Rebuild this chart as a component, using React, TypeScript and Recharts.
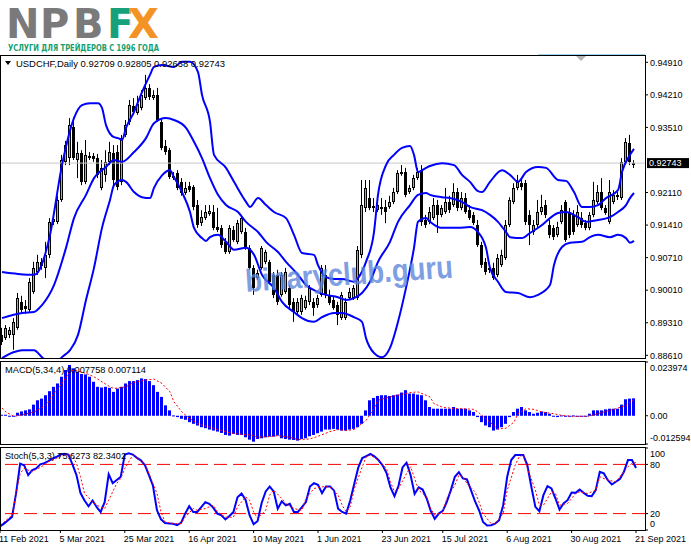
import React from 'react';
import { ComposedChart, Bar, Line, XAxis, YAxis, ReferenceLine } from 'recharts';

const FONT = '"Liberation Sans", Arial, sans-serif';

// ---- USDCHF Daily candles (11 Feb 2021 .. 21 Sep 2021) ----
const opens = [
  0.8905, 0.8898, 0.8905, 0.8905, 0.8920, 0.8976, 0.8967, 0.8959, 0.8997, 0.9040,
  0.9062, 0.9049, 0.9077, 0.9148, 0.9148, 0.9195, 0.9277, 0.9285, 0.9352, 0.9281,
  0.9296, 0.9234, 0.9285, 0.9290, 0.9285, 0.9221, 0.9249, 0.9277, 0.9296, 0.9298,
  0.9234, 0.9335, 0.9363, 0.9397, 0.9382, 0.9393, 0.9414, 0.9436, 0.9414, 0.9421,
  0.9363, 0.9311, 0.9302, 0.9242, 0.9253, 0.9234, 0.9210, 0.9225, 0.9223, 0.9184,
  0.9145, 0.9156, 0.9165, 0.9169, 0.9137, 0.9135, 0.9105, 0.9083, 0.9130, 0.9105,
  0.9126, 0.9126, 0.9092, 0.9049, 0.9027, 0.9049, 0.9062, 0.9062, 0.9034, 0.9034,
  0.8991, 0.8997, 0.9006, 0.8976, 0.8954, 0.8954, 0.8963, 0.8976, 0.8976, 0.8969,
  0.8991, 0.9034, 0.8991, 0.8980, 0.8969, 0.8941, 0.8941, 0.8984, 0.8984, 0.8984,
  0.9077, 0.9178, 0.9199, 0.9182, 0.9173, 0.9176, 0.9180, 0.9180, 0.9191, 0.9212,
  0.9251, 0.9255, 0.9212, 0.9221, 0.9242, 0.9259, 0.9152, 0.9148, 0.9156, 0.9184,
  0.9163, 0.9169, 0.9191, 0.9184, 0.9212, 0.9178, 0.9199, 0.9173, 0.9163, 0.9141,
  0.9098, 0.9062, 0.9049, 0.9049, 0.9034, 0.9055, 0.9070, 0.9141, 0.9191, 0.9221,
  0.9231, 0.9231, 0.9163, 0.9126, 0.9141, 0.9169, 0.9184, 0.9141, 0.9135, 0.9120,
  0.9148, 0.9191, 0.9169, 0.9163, 0.9141, 0.9156, 0.9145, 0.9135, 0.9163, 0.9191,
  0.9212, 0.9178, 0.9148, 0.9191, 0.9206, 0.9199, 0.9277, 0.9317, 0.92709,
];
const highs = [
  0.8920, 0.8926, 0.8922, 0.8941, 0.8995, 0.8989, 0.8980, 0.9027, 0.9062, 0.9077,
  0.9070, 0.9105, 0.9156, 0.9169, 0.9204, 0.9292, 0.9322, 0.9371, 0.9373, 0.9320,
  0.9302, 0.9324, 0.9298, 0.9296, 0.9294, 0.9281, 0.9302, 0.9320, 0.9313, 0.9313,
  0.9335, 0.9367, 0.9410, 0.9414, 0.9419, 0.9431, 0.9464, 0.9444, 0.9431, 0.9436,
  0.9371, 0.9324, 0.9307, 0.9255, 0.9259, 0.9242, 0.9234, 0.9234, 0.9227, 0.9195,
  0.9173, 0.9184, 0.9184, 0.9184, 0.9178, 0.9141, 0.9113, 0.9141, 0.9139, 0.9152,
  0.9163, 0.9135, 0.9098, 0.9055, 0.9045, 0.9096, 0.9088, 0.9066, 0.9040, 0.9045,
  0.9040, 0.9049, 0.9012, 0.8984, 0.8984, 0.8991, 0.8989, 0.9012, 0.8984, 0.8991,
  0.9055, 0.9055, 0.9002, 0.8987, 0.8976, 0.8997, 0.8984, 0.9006, 0.9012, 0.9096,
  0.9238, 0.9238, 0.9238, 0.9199, 0.9199, 0.9199, 0.9195, 0.9204, 0.9221, 0.9259,
  0.9270, 0.9264, 0.9227, 0.9249, 0.9264, 0.9270, 0.9163, 0.9180, 0.9199, 0.9195,
  0.9184, 0.9221, 0.9204, 0.9231, 0.9221, 0.9212, 0.9210, 0.9184, 0.9169, 0.9152,
  0.9105, 0.9070, 0.9055, 0.9060, 0.9079, 0.9088, 0.9152, 0.9201, 0.9231, 0.9249,
  0.9242, 0.9238, 0.9173, 0.9152, 0.9195, 0.9206, 0.9195, 0.9152, 0.9141, 0.9148,
  0.9184, 0.9195, 0.9178, 0.9173, 0.9184, 0.9169, 0.9152, 0.9169, 0.9234, 0.9227,
  0.9242, 0.9184, 0.9238, 0.9216, 0.9212, 0.9285, 0.9328, 0.9335, 0.92805,
];
const lows = [
  0.8883, 0.8894, 0.8898, 0.8873, 0.8916, 0.8954, 0.8950, 0.8954, 0.8993, 0.9034,
  0.9045, 0.9027, 0.9070, 0.9141, 0.9143, 0.9191, 0.9270, 0.9270, 0.9281, 0.9242,
  0.9227, 0.9229, 0.9281, 0.9277, 0.9242, 0.9216, 0.9234, 0.9270, 0.9227, 0.9216,
  0.9227, 0.9330, 0.9356, 0.9378, 0.9378, 0.9388, 0.9410, 0.9410, 0.9410, 0.9363,
  0.9302, 0.9292, 0.9240, 0.9238, 0.9216, 0.9204, 0.9206, 0.9212, 0.9173, 0.9135,
  0.9139, 0.9152, 0.9161, 0.9130, 0.9126, 0.9092, 0.9079, 0.9079, 0.9105, 0.9100,
  0.9122, 0.9088, 0.9045, 0.8991, 0.9023, 0.9045, 0.9057, 0.9014, 0.8984, 0.8969,
  0.8987, 0.8993, 0.8963, 0.8933, 0.8950, 0.8948, 0.8959, 0.8969, 0.8946, 0.8963,
  0.8987, 0.8984, 0.8969, 0.8959, 0.8926, 0.8937, 0.8937, 0.8980, 0.8980, 0.8980,
  0.9070, 0.9169, 0.9173, 0.9169, 0.9169, 0.9163, 0.9145, 0.9176, 0.9186, 0.9208,
  0.9247, 0.9201, 0.9208, 0.9216, 0.9238, 0.9139, 0.9135, 0.9143, 0.9152, 0.9124,
  0.9158, 0.9165, 0.9167, 0.9180, 0.9171, 0.9173, 0.9165, 0.9152, 0.9141, 0.9094,
  0.9049, 0.9034, 0.9038, 0.9023, 0.9029, 0.9051, 0.9066, 0.9137, 0.9186, 0.9216,
  0.9216, 0.9141, 0.9098, 0.9120, 0.9137, 0.9163, 0.9156, 0.9113, 0.9109, 0.9115,
  0.9143, 0.9105, 0.9113, 0.9120, 0.9137, 0.9135, 0.9130, 0.9130, 0.9158, 0.9186,
  0.9173, 0.9163, 0.9143, 0.9186, 0.9195, 0.9195, 0.9272, 0.9270, 0.92638,
];
const closes = [
  0.8890, 0.8920, 0.8916, 0.8933, 0.8984, 0.8959, 0.8961, 0.9019, 0.9049, 0.9062,
  0.9053, 0.9077, 0.9148, 0.9154, 0.9195, 0.9281, 0.9313, 0.9356, 0.9285, 0.9296,
  0.9234, 0.9292, 0.9290, 0.9283, 0.9249, 0.9264, 0.9277, 0.9298, 0.9238, 0.9223,
  0.9328, 0.9356, 0.9399, 0.9384, 0.9401, 0.9421, 0.9436, 0.9416, 0.9421, 0.9367,
  0.9307, 0.9298, 0.9244, 0.9247, 0.9221, 0.9210, 0.9221, 0.9216, 0.9180, 0.9141,
  0.9158, 0.9169, 0.9171, 0.9135, 0.9130, 0.9098, 0.9083, 0.9135, 0.9109, 0.9145,
  0.9156, 0.9092, 0.9049, 0.9006, 0.9038, 0.9092, 0.9083, 0.9019, 0.8991, 0.8976,
  0.9034, 0.9040, 0.8969, 0.8954, 0.8976, 0.8984, 0.8980, 0.9006, 0.8963, 0.8984,
  0.9049, 0.8991, 0.8974, 0.8963, 0.8948, 0.8991, 0.8976, 0.8997, 0.9006, 0.9088,
  0.9184, 0.9221, 0.9178, 0.9178, 0.9184, 0.9180, 0.9169, 0.9191, 0.9212, 0.9253,
  0.9255, 0.9206, 0.9221, 0.9242, 0.9255, 0.9148, 0.9141, 0.9169, 0.9184, 0.9163,
  0.9178, 0.9191, 0.9173, 0.9212, 0.9178, 0.9199, 0.9169, 0.9156, 0.9145, 0.9098,
  0.9055, 0.9040, 0.9045, 0.9027, 0.9070, 0.9077, 0.9141, 0.9195, 0.9221, 0.9234,
  0.9223, 0.9148, 0.9141, 0.9141, 0.9169, 0.9180, 0.9163, 0.9120, 0.9115, 0.9137,
  0.9173, 0.9109, 0.9120, 0.9126, 0.9169, 0.9141, 0.9135, 0.9163, 0.9195, 0.9212,
  0.9178, 0.9167, 0.9212, 0.9206, 0.9201, 0.9277, 0.9320, 0.9277, 0.92743,
];

// ---- Bollinger bands, read at bars [barIndex, price] ----
const bbUpperPts = [
  [0, 0.9040], [4, 0.9036], [8, 0.9034], [9, 0.9040], [12, 0.9120], [15, 0.9270], [18, 0.9371], [20, 0.9399],
  [22, 0.9403], [24, 0.9403], [25, 0.9393], [26, 0.9356], [28, 0.9330], [29, 0.9328], [30, 0.9324], [31, 0.9350],
  [33, 0.9384], [35, 0.9427], [37, 0.9464], [38, 0.9481], [40, 0.9485], [43, 0.9481], [45, 0.9492], [47, 0.9492],
  [49, 0.9470], [50, 0.9421], [52, 0.9363], [53, 0.9292], [56, 0.9264], [58, 0.9234], [61, 0.9191], [62, 0.9180],
  [64, 0.9199], [66, 0.9184], [68, 0.9169], [71, 0.9156], [73, 0.9120], [75, 0.9081], [78, 0.9077], [79, 0.9055],
  [81, 0.9029], [83, 0.9025], [85, 0.9025], [88, 0.9019], [89, 0.9027], [91, 0.9062], [93, 0.9126], [94, 0.9206],
  [96, 0.9270], [98, 0.9292], [100, 0.9307], [102, 0.9311], [103, 0.9292], [104, 0.9255], [106, 0.9264], [107, 0.9268],
  [110, 0.9274], [113, 0.9270], [115, 0.9249], [117, 0.9234], [119, 0.9214], [120, 0.9212], [122, 0.9234], [125, 0.9259],
  [127, 0.9249], [129, 0.9234], [131, 0.9255], [134, 0.9266], [136, 0.9264], [139, 0.9238], [141, 0.9236], [143, 0.9212],
  [145, 0.9180], [147, 0.9180], [149, 0.9184], [151, 0.9199], [154, 0.9216], [155, 0.9255], [157, 0.9292], [158, 0.9305],
];
const bbMiddlePts = [
  [0, 0.8941], [5, 0.8952], [8, 0.8954], [10, 0.8969], [13, 0.9012], [16, 0.9092], [18, 0.9156], [21, 0.9206],
  [23, 0.9242], [26, 0.9266], [28, 0.9281], [30, 0.9277], [33, 0.9298], [36, 0.9328], [38, 0.9360], [41, 0.9371],
  [43, 0.9367], [46, 0.9350], [48, 0.9320], [50, 0.9285], [52, 0.9242], [54, 0.9206], [56, 0.9184], [59, 0.9169],
  [61, 0.9148], [64, 0.9126], [66, 0.9105], [69, 0.9083], [71, 0.9062], [74, 0.9034], [76, 0.9012], [79, 0.8997],
  [81, 0.8991], [84, 0.8986], [86, 0.8980], [88, 0.8984], [90, 0.8995], [92, 0.9019], [94, 0.9062], [97, 0.9105],
  [99, 0.9148], [102, 0.9184], [104, 0.9206], [106, 0.9210], [107, 0.9206], [110, 0.9201], [112, 0.9199], [115, 0.9191],
  [117, 0.9180], [120, 0.9173], [122, 0.9163], [124, 0.9148], [126, 0.9126], [127, 0.9115], [130, 0.9113], [132, 0.9124],
  [135, 0.9141], [137, 0.9156], [139, 0.9167], [141, 0.9169], [144, 0.9158], [146, 0.9148], [149, 0.9152], [152, 0.9158],
  [154, 0.9169], [156, 0.9184], [157, 0.9199], [158, 0.9210],
];
const bbLowerPts = [
  [0, 0.8855], [3, 0.8868], [5, 0.8872], [8, 0.8872], [10, 0.8857], [12, 0.8845], [14, 0.8848], [15, 0.8857],
  [17, 0.8872], [19, 0.8905], [21, 0.8980], [23, 0.9049], [25, 0.9135], [27, 0.9195], [28, 0.9227], [30, 0.9238],
  [31, 0.9234], [33, 0.9212], [35, 0.9201], [37, 0.9199], [38, 0.9221], [40, 0.9248], [42, 0.9259], [43, 0.9244],
  [45, 0.9212], [47, 0.9169], [48, 0.9135], [50, 0.9113], [51, 0.9107], [52, 0.9115], [54, 0.9120], [56, 0.9105],
  [58, 0.9088], [61, 0.9092], [63, 0.9077], [65, 0.9034], [68, 0.9006], [70, 0.8976], [73, 0.8954], [75, 0.8941],
  [78, 0.8933], [80, 0.8943], [83, 0.8952], [85, 0.8952], [88, 0.8943], [90, 0.8933], [91, 0.8898], [93, 0.8866],
  [95, 0.8857], [97, 0.8877], [99, 0.8933], [101, 0.9006], [103, 0.9092], [104, 0.9148], [106, 0.9156], [107, 0.9148],
  [109, 0.9137], [110, 0.9135], [114, 0.9135], [117, 0.9137], [119, 0.9126], [121, 0.9092], [122, 0.9049], [124, 0.9019],
  [126, 0.8997], [129, 0.8995], [132, 0.8986], [134, 0.8991], [137, 0.9012], [138, 0.9055], [140, 0.9094], [142, 0.9103],
  [145, 0.9105], [147, 0.9115], [149, 0.9120], [152, 0.9115], [154, 0.9120], [156, 0.9113], [157, 0.9103], [158, 0.9107],
];

// ---- MACD(5,34,4) ----
const macdHist = [
  0.00045, 0.00045, -0.0003, -0.0003, 0.00135, 0.00195, 0.0024, 0.00285, 0.00495, 0.0069,
  0.00765, 0.00915, 0.01095, 0.0129, 0.0144, 0.0174, 0.0204, 0.02265, 0.02115, 0.01965,
  0.0186, 0.01845, 0.0174, 0.01515, 0.0129, 0.0126, 0.0129, 0.01245, 0.01065, 0.01215,
  0.0129, 0.0144, 0.01545, 0.01545, 0.0159, 0.01665, 0.01635, 0.01545, 0.01365, 0.01065,
  0.0084, 0.00465, 0.0024, 0.00015, -0.0006, -0.00135, -0.0018, -0.00285, -0.0036, -0.00435,
  -0.0051, -0.00555, -0.00615, -0.0066, -0.00705, -0.00765, -0.00855, -0.00885, -0.0081, -0.00855,
  -0.00855, -0.0096, -0.01065, -0.01155, -0.01035, -0.01005, -0.0096, -0.0093, -0.0093, -0.00885,
  -0.01005, -0.01035, -0.01065, -0.0108, -0.0111, -0.01035, -0.01005, -0.00915, -0.00855, -0.0078,
  -0.00705, -0.00615, -0.00615, -0.00585, -0.00615, -0.0066, -0.0066, -0.00615, -0.00585, -0.0051,
  -0.0036, 0.0024, 0.0069, 0.00795, 0.00885, 0.00915, 0.00915, 0.00885, 0.00915, 0.00945,
  0.01035, 0.0114, 0.0099, 0.0099, 0.00945, 0.00915, 0.0069, 0.0039, 0.00315, 0.00315,
  0.00315, 0.00315, 0.00315, 0.0039, 0.00315, 0.00315, 0.00315, 0.0024, 0.00165, -0.0006,
  -0.00285, -0.00435, -0.0051, -0.0066, -0.00615, -0.0051, -0.0036, -0.0006, 0.00165, 0.00315,
  0.0039, 0.0024, 0.00165, 0.0009, 0.00135, 0.00195, 0.00165, 0.0009, -0.00015, -0.0006,
  0.00015, -0.00015, -0.0003, 0.00015, -0.00015, -0.0003, -0.00015, 0.0009, 0.0024, 0.0024,
  0.0024, 0.00285, 0.00315, 0.00315, 0.00315, 0.00495, 0.00735, 0.00765, 0.007758,
];
const macdSignalPts = [
  [0, 0.00345], [1, 0.00165], [3, -0.0003], [5, 0.00045], [8, 0.00165], [11, 0.00465], [13, 0.0099], [15, 0.0144],
  [17, 0.01965], [18, 0.0204], [21, 0.0189], [23, 0.0174], [25, 0.01515], [27, 0.0129], [28, 0.01215], [31, 0.0129],
  [33, 0.01485], [36, 0.0159], [38, 0.01635], [40, 0.0144], [42, 0.01065], [43, 0.00615], [45, 0.00165], [47, -0.00135],
  [49, -0.0036], [52, -0.0051], [54, -0.00615], [57, -0.00765], [59, -0.0081], [62, -0.00855], [64, -0.0096], [67, -0.0093],
  [69, -0.00885], [72, -0.0096], [74, -0.01065], [77, -0.01035], [79, -0.00915], [82, -0.00705], [84, -0.00615], [86, -0.0066],
  [88, -0.00615], [91, -0.0021], [93, 0.00315], [94, 0.0069], [97, 0.0084], [99, 0.00915], [102, 0.01035], [104, 0.01065],
  [107, 0.0084], [108, 0.0054], [110, 0.0039], [113, 0.00315], [115, 0.00315], [118, 0.00285], [119, 0.00165], [121, -0.00135],
  [123, -0.00435], [124, -0.00585], [126, -0.00555], [128, -0.00285], [129, 0.0009], [131, 0.00315], [133, 0.00285], [135, 0.00165],
  [138, 0.0009], [140, 0.00015], [143, -0.0003], [147, -0.00015], [148, 0.00045], [151, 0.00195], [153, 0.00285], [156, 0.00465],
  [158, 0.007114],
];

// ---- Stochastic(5,3,3) ----
const stochMain = [
  4.5, 7.8, 11.9, 16, 45, 81, 79, 67, 73, 75,
  80, 81.5, 84, 87, 89, 92, 93, 92, 80, 67,
  45, 36, 29, 36, 28, 22, 34, 68, 57, 61,
  65, 92, 93.5, 92, 88, 85, 79, 67, 54, 24,
  13, 8.5, 8, 7.5, 5.8, 9, 20, 29, 22, 22,
  28, 34, 32, 27, 20, 18, 13, 17, 22, 40,
  44.5, 37, 18, 7, 11, 33, 47, 53, 47, 26,
  35, 30, 32, 22, 22, 28, 34, 53, 57, 55,
  45, 53, 53, 48, 26, 22, 20, 36, 56, 76,
  87.8, 90.2, 92.7, 89.8, 85.3, 79.2, 69.8, 51.9, 41.3, 53.9,
  76.3, 82.1, 67, 44, 52, 49.4, 38.4, 23.3, 13.5, 20,
  23.3, 34.3, 48.6, 64.9, 70.6, 62.9, 61.7, 48.6, 35.1, 24.1,
  9.8, 5.4, 5.8, 7.8, 11.9, 30.2, 64.9, 85.3, 91.4, 91.4,
  91.4, 79.2, 52.7, 28.2, 23, 42.5, 53.5, 50.6, 38.4, 25,
  32.3, 36.4, 45.7, 45.3, 49.4, 45.3, 41.7, 41.3, 48.6, 71,
  69, 60.8, 55.5, 58.8, 62.1, 71, 85.3, 85.3, 75.6273,
];
const stochSignalPts = [
  [0, 5.8], [1, 9.8], [3, 18.0], [4, 44.5], [5, 69.0], [6, 75.1], [8, 71.0], [9, 73.9], [11, 79.2], [12, 83.3],
  [14, 87.4], [16, 91.4], [18, 91.4], [19, 81.2], [20, 64.9], [21, 44.5], [23, 34.3], [24, 30.2], [26, 26.2], [27, 36.4],
  [29, 56.8], [30, 62.9], [31, 75.1], [33, 91.4], [34, 87.4], [36, 81.2], [37, 69.0], [39, 44.5], [40, 22.1], [41, 9.8],
  [43, 7.8], [45, 7.8], [46, 15.6], [48, 26.2], [49, 24.1], [51, 26.2], [53, 30.2], [54, 22.1], [56, 15.6], [58, 15.6],
  [59, 28.2], [61, 40.4], [62, 36.4], [63, 22.1], [64, 13.9], [66, 24.1], [67, 42.5], [68, 48.6], [70, 38.4], [71, 32.3],
  [73, 26.2], [75, 24.1], [76, 38.4], [78, 50.6], [80, 52.7], [82, 52.7], [84, 42.5], [85, 30.2], [86, 22.1], [87, 28.2],
  [88, 50], [90, 77.2], [91, 89.4], [92, 91.4], [94, 85.3], [96, 75.1], [97, 58.8], [98, 46.6], [99, 50.6], [101, 69.0],
  [102, 77.2], [103, 62.9], [104, 48.6], [106, 40.4], [107, 26.2], [108, 18.0], [110, 22.1], [111, 38.4], [113, 54.7], [114, 67.0],
  [115, 64.9], [116, 56.8], [118, 46.6], [119, 34.3], [120, 20.0], [122, 7.8], [123, 7.8], [125, 20.0], [126, 48.6], [128, 79.2],
  [129, 89.4], [130, 91.4], [131, 75.1], [133, 48.6], [134, 30.2], [135, 30.2], [137, 46.6], [138, 44.5], [139, 30.2], [141, 32.3],
  [143, 44.5], [144, 46.6], [146, 44.5], [148, 48.6], [149, 64.9], [151, 60.8], [153, 58.8], [154, 64.9], [156, 77.2], [157, 81.2],
  [158, 82.3402],
];

// ---- axes ----
const priceTicks = [0.9491, 0.9421, 0.9351, 0.9211, 0.9141, 0.9071, 0.9001, 0.8931, 0.8861];
const macdTicks = [0.023974, 0, -0.012594];
const stochTicks = [100, 80, 20, 0];
const stochLevels = [80, 20];
const dateTickIdx = [0, 15, 31, 47, 63, 79, 95, 110, 126, 142, 158];
const dateLabels = ['11 Feb 2021', '5 Mar 2021', '25 Mar 2021', '16 Apr 2021', '10 May 2021', '1 Jun 2021',
  '23 Jun 2021', '15 Jul 2021', '6 Aug 2021', '30 Aug 2021', '21 Sep 2021'];

// build table
const rows = closes.map((c, i) => ({
  i,
  o: opens[i], h: highs[i], l: lows[i], c,
  range: [lows[i], highs[i]],
  bbU: null as number | null, bbM: null as number | null, bbL: null as number | null,
  macd: macdHist[i], macdSig: null as number | null,
  stoch: stochMain[i], stochSig: null as number | null,
}));
bbUpperPts.forEach(([i, v]) => { rows[i].bbU = v; });
bbMiddlePts.forEach(([i, v]) => { rows[i].bbM = v; });
bbLowerPts.forEach(([i, v]) => { rows[i].bbL = v; });
macdSignalPts.forEach(([i, v]) => { rows[i].macdSig = v; });
stochSignalPts.forEach(([i, v]) => { rows[i].stochSig = v; });

const last = rows.length - 1;
const lastClose = closes[last];

function Candle(p: any) {
  const { x, y, width, height } = p;
  const d = p.payload || p;
  if (height == null || isNaN(height)) return null;
  const cx = Math.floor(x + width / 2);
  const span = d.h - d.l;
  const toY = (v: number) => (span > 0 ? y + ((d.h - v) / span) * height : y);
  const yo = toY(d.o);
  const yc = toY(d.c);
  const top = Math.round(Math.min(yo, yc));
  const bot = Math.round(Math.max(yo, yc));
  const bh = Math.max(1, bot - top);
  const bull = d.c > d.o;
  return (
    <g>
      <rect x={cx} y={y} width={1} height={Math.max(1, height)} fill="#000" />
      <rect x={cx - 1} y={top} width={3} height={bh} fill="#000" />
      {bull && bh > 2 ? <rect x={cx} y={top + 1} width={1} height={bh - 2} fill="#a8a8a8" /> : null}
    </g>
  );
}

function MacdBar(p: any) {
  const { x, y, width, height } = p;
  if (height == null || isNaN(height)) return null;
  const cx = Math.floor(x + width / 2);
  const top = Math.min(y, y + height);
  const h = Math.max(1, Math.abs(height));
  return <rect x={cx - 1} y={top} width={3} height={h} fill="#0000ff" />;
}

const makeYTick = (fmt: (v: number) => string, shift: (v: number) => number) => (p: any) => {
  const { x, y, payload } = p;
  return (
    <text x={x} y={y + shift(payload.value)} dy={3.2} fontSize={9} fontFamily={FONT} fill="#000" textAnchor="start">
      {fmt(payload.value)}
    </text>
  );
};

const PriceTick = makeYTick((v) => v.toFixed(5), () => 0);
const MacdTick = makeYTick(
  (v) => (v === 0 ? '0.00' : v.toFixed(6)),
  (v) => (v === macdTicks[0] ? 5.5 : v === macdTicks[2] ? -6.5 : 0)
);
const StochTick = makeYTick(
  (v) => String(v),
  (v) => (v === 100 ? 5.3 : v === 0 ? -6.7 : 0)
);

function DateTick(p: any) {
  const { x, y, payload } = p;
  const k = dateTickIdx.indexOf(payload.value);
  return (
    <text x={x - 1} y={y + 7} fontSize={9} fontFamily={FONT} fill="#000" textAnchor="start">
      {dateLabels[k]}
    </text>
  );
}

function PriceTag(p: any) {
  const vb = p.viewBox || {};
  const xr = (vb.x || 0) + (vb.width || 0);
  const y = vb.y || 0;
  return (
    <g>
      <rect x={xr + 2} y={y - 5} width={42} height={10} fill="#000" />
      <text x={xr + 4} y={y + 3.3} fontSize={9} fontFamily={FONT} fill="#fff">{lastClose.toFixed(5)}</text>
    </g>
  );
}

const xPad = { left: 0, right: 9 };
const W = 691;
const AXW = 46;
const LOGO_FONT = '"DejaVu Sans", sans-serif';

export default function App() {
  const frame = (top: number, height: number) => ({
    position: 'absolute' as const, left: 0, top, width: 646, height,
    border: '1px solid #000', boxSizing: 'border-box' as const, pointerEvents: 'none' as const,
  });
  return (
    <div style={{ position: 'absolute', left: 0, top: 0, width: W, height: 549, background: '#fff', overflow: 'hidden', fontFamily: FONT }}>
      {/* main price pane */}
      <div style={{ position: 'absolute', left: 0, top: 50 }}>
        <ComposedChart width={W} height={313} data={rows} margin={{ top: 5, right: 0, bottom: 5, left: 0 }}>
          <XAxis dataKey="i" hide padding={xPad} />
          <YAxis orientation="right" width={AXW} domain={[0.88552, 0.95067]} allowDataOverflow ticks={priceTicks}
            interval={0} tickSize={3} tickMargin={2} axisLine={false} tickLine={{ stroke: '#000' }} tick={PriceTick} />
          <ReferenceLine y={lastClose} stroke="#c8c8c8" strokeWidth={1} label={(lp: any) => <PriceTag {...lp} />} />
          <Bar dataKey="range" isAnimationActive={false} shape={(sp: any) => <Candle {...sp} />} />
          <Line dataKey="bbU" type="monotone" stroke="#0000ff" strokeWidth={2} dot={false} connectNulls isAnimationActive={false} />
          <Line dataKey="bbM" type="monotone" stroke="#0000ff" strokeWidth={2} dot={false} connectNulls isAnimationActive={false} />
          <Line dataKey="bbL" type="monotone" stroke="#0000ff" strokeWidth={2} dot={false} connectNulls isAnimationActive={false} />
        </ComposedChart>
      </div>

      {/* MACD pane */}
      <div style={{ position: 'absolute', left: 0, top: 357 }}>
        <ComposedChart width={W} height={92} data={rows} margin={{ top: 5, right: 0, bottom: 5, left: 0 }}>
          <XAxis dataKey="i" hide padding={xPad} />
          <YAxis orientation="right" width={AXW} domain={[-0.012594, 0.023974]} allowDataOverflow ticks={macdTicks}
            interval={0} tickSize={3} tickMargin={2} axisLine={false} tickLine={{ stroke: '#000' }} tick={MacdTick} />
          <Bar dataKey="macd" isAnimationActive={false} shape={(sp: any) => <MacdBar {...sp} />} />
          <Line dataKey="macdSig" type="linear" stroke="#ff0000" strokeWidth={1} strokeDasharray="2 2" dot={false} connectNulls isAnimationActive={false} />
        </ComposedChart>
      </div>

      {/* Stochastic pane */}
      <div style={{ position: 'absolute', left: 0, top: 443 }}>
        <ComposedChart width={W} height={106} data={rows} margin={{ top: 5, right: 0, bottom: 0, left: 0 }}>
          <XAxis dataKey="i" padding={xPad} ticks={dateTickIdx} interval={0} height={19} tickSize={3} tickMargin={2}
            axisLine={false} tickLine={{ stroke: '#000' }} tick={DateTick} />
          <YAxis orientation="right" width={AXW} domain={[0, 100]} allowDataOverflow ticks={stochTicks}
            interval={0} tickSize={3} tickMargin={2} axisLine={false} tickLine={{ stroke: '#000' }} tick={StochTick} />
          {stochLevels.map((lv) => (
            <ReferenceLine key={lv} y={lv} stroke="#ff0000" strokeWidth={1} strokeDasharray="13 6" />
          ))}
          <Line dataKey="stoch" type="linear" stroke="#0000ff" strokeWidth={2} dot={false} isAnimationActive={false} />
          <Line dataKey="stochSig" type="linear" stroke="#ff0000" strokeWidth={1} strokeDasharray="2 2" dot={false} connectNulls isAnimationActive={false} />
        </ComposedChart>
      </div>

      {/* pane frames */}
      <div style={frame(55, 304)} />
      <div style={frame(361, 84)} />
      <div style={frame(447, 84)} />

      {/* texts and marks */}
      <svg width={W} height={549} style={{ position: 'absolute', left: 0, top: 0, pointerEvents: 'none' }}>
        <defs>
          <linearGradient id="npbfxFill" gradientUnits="userSpaceOnUse" x1={0} y1={0} x2={W} y2={0}>
            <stop offset={0} stopColor="#7a7a7a" />
            <stop offset={107 / W} stopColor="#7a7a7a" />
            <stop offset={107 / W} stopColor="#17a17a" />
            <stop offset={129 / W} stopColor="#17a17a" />
            <stop offset={129 / W} stopColor="#f39325" />
            <stop offset={1} stopColor="#f39325" />
          </linearGradient>
        </defs>
        <text x="6 40 73 107 128" y={38} fontFamily={LOGO_FONT} fontWeight="bold" fontSize={40} fill="url(#npbfxFill)">NPBFX</text>
        <text x={8} y={51} fontFamily='"DejaVu Sans Condensed", "DejaVu Sans", sans-serif' fontWeight="bold" fontSize={8.5} fill="#17a06f"
          textLength={151} lengthAdjust="spacingAndGlyphs">УСЛУГИ ДЛЯ ТРЕЙДЕРОВ С 1996 ГОДА</text>

        <line x1={538} x2={645} y1={54.5} y2={54.5} stroke="#9fd4ef" strokeWidth={1} />
        <polygon points="576,56 586,56 581,61" fill="#b4b4b4" />

        <polygon points="5,61 11,61 8,65" fill="#000" />
        <text x={16} y={66.5} fontSize={9} fontFamily={FONT} fill="#000" textLength={209} lengthAdjust="spacingAndGlyphs">
          {'USDCHF,Daily  0.92709 0.92805 0.92638 0.92743'}
        </text>

        <text x={5} y={372.5} fontSize={9} fontFamily={FONT} fill="#000" textLength={141} lengthAdjust="spacingAndGlyphs">
          {'MACD(5,34,4) ' + macdHist[last].toFixed(6) + ' ' + macdSignalPts[macdSignalPts.length - 1][1].toFixed(6)}
        </text>
        <text x={5} y={459} fontSize={9} fontFamily={FONT} fill="#000" textLength={121} lengthAdjust="spacingAndGlyphs">
          {'Stoch(5,3,3) ' + stochMain[last].toFixed(4) + ' ' + stochSignalPts[stochSignalPts.length - 1][1].toFixed(4)}
        </text>

        <text x={246} y={292} fontFamily='"Liberation Sans", Arial, sans-serif' fontWeight="bold" fontSize={32} fill="#5b86dc"
          fillOpacity={0.8} textLength={208} lengthAdjust="spacingAndGlyphs" transform="rotate(-4 246 292)">
          binaryclub.guru
        </text>
      </svg>
    </div>
  );
}
